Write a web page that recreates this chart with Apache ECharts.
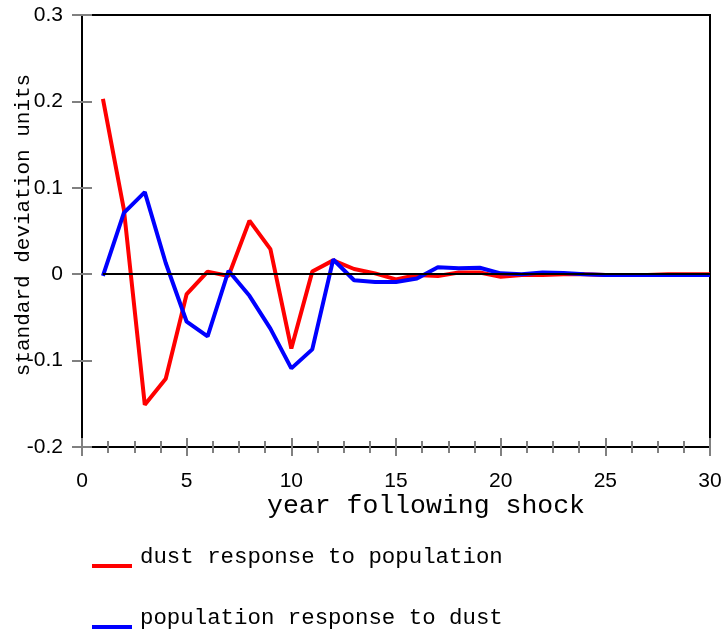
<!DOCTYPE html>
<html>
<head>
<meta charset="utf-8">
<script src="https://cdn.jsdelivr.net/npm/echarts@6/dist/echarts.min.js"></script>
<style>
  html, body { margin: 0; padding: 0; background: #fff; }
  #main { width: 723px; height: 634px; }
</style>
</head>
<body>
<div id="main"></div>
<script>
var years = [1,2,3,4,5,6,7,8,9,10,11,12,13,14,15,16,17,18,19,20,21,22,23,24,25,26,27,28,29,30];
var dustResp = [0.203,0.075,-0.151,-0.121,-0.023,0.003,-0.002,0.062,0.029,-0.086,
  0.003,0.016,0.006,0.001,-0.006,-0.001,-0.002,0.002,0.002,-0.003,
  -0.001,-0.001,0.000,0.000,-0.001,-0.001,-0.001,0.000,0.000,0.000];
var popResp = [-0.002,0.071,0.095,0.013,-0.055,-0.072,0.004,-0.025,-0.063,-0.109,
  -0.087,0.017,-0.007,-0.009,-0.009,-0.005,0.008,0.007,0.0075,0.001,
  0.000,0.002,0.0015,0.000,-0.001,-0.001,-0.001,-0.001,-0.001,-0.001];
var seriesNames = ['dust response to population', 'population response to dust'];
var seriesColors = ['#ff0000', '#0000ff'];

function pairs(vals){
  return years.map(function (y, i){ return [y, vals[i]]; });
}

var mono = '"Liberation Mono", "DejaVu Sans Mono", monospace';
var sans = '"Liberation Sans", Arial, sans-serif';

var myChart = echarts.init(document.getElementById('main'));

// each axis twice: ticks outside + ticks inside, so the ticks cross the line
function xAx(inside){
  return {
    type: 'value', position: 'bottom', min: 0, max: 30, interval: 5,
    name: inside ? '' : 'year following shock',
    nameLocation: 'middle', nameGap: 45, nameMoveOverlap: false,
    nameTextStyle: { fontFamily: mono, fontSize: 26.5, color: '#000', padding: [0, 0, 0, 60] },
    axisLine: { show: true, onZero: false, lineStyle: { color: '#000', width: 2 } },
    axisTick: { show: true, inside: inside, length: 9, lineStyle: { color: '#808080', width: 2 } },
    minorTick: { show: true, splitNumber: 4, length: 6, lineStyle: { color: '#808080', width: 2 } },
    axisLabel: { show: !inside, margin: 24, fontFamily: sans, fontSize: 21, color: '#000' },
    splitLine: { show: false }
  };
}
function yAx(inside){
  return {
    type: 'value', position: 'left', min: -0.2, max: 0.3, interval: 0.1,
    name: inside ? '' : 'standard deviation units',
    nameLocation: 'middle', nameGap: 48, nameMoveOverlap: false,
    nameTextStyle: { fontFamily: mono, fontSize: 21, color: '#000', padding: [0, 0, 0, 12] },
    axisLine: { show: true, onZero: false, lineStyle: { color: '#000', width: 2 } },
    axisTick: { show: true, inside: inside, length: 10, lineStyle: { color: '#808080', width: 2 } },
    axisLabel: {
      show: !inside, margin: 19, fontFamily: sans, fontSize: 21, color: '#000',
      formatter: function (v){ return String(+v.toFixed(1)); }
    },
    splitLine: { show: false }
  };
}

var option = {
  animation: false,
  backgroundColor: '#fff',
  grid: {
    left: 82, right: 13, top: 15, bottom: 187, outerBoundsMode: 'none',
    show: true, borderColor: '#000', borderWidth: 2
  },
  xAxis: [xAx(false), xAx(true)],
  yAxis: [yAx(false), yAx(true)],
  legend: {
    data: seriesNames,
    orient: 'vertical', left: 92, top: 546, padding: 0,
    itemWidth: 43, itemHeight: 22, itemGap: 39,
    // bar sits low in the icon box, like the reference
    icon: 'path://M0,0 L43,0 L43,0 Z M0,18 L40,18 L40,22 L0,22 Z',
    itemStyle: { borderWidth: 0 },
    textStyle: { fontFamily: mono, fontSize: 22.4, color: '#000' }
  },
  series: [
    {
      name: 'zero', type: 'line', data: [], silent: true, z: 1,
      markLine: {
        silent: true, symbol: 'none', label: { show: false },
        lineStyle: { color: '#000', width: 2, type: 'solid' },
        data: [[{ coord: [1, 0] }, { coord: [30, 0] }]]
      }
    },
    {
      name: seriesNames[0], type: 'line', data: pairs(dustResp),
      showSymbol: false, symbol: 'none', z: 2,
      itemStyle: { color: seriesColors[0] },
      lineStyle: { color: seriesColors[0], width: 4 }
    },
    {
      name: seriesNames[1], type: 'line', data: pairs(popResp),
      showSymbol: false, symbol: 'none', z: 3,
      itemStyle: { color: seriesColors[1] },
      lineStyle: { color: seriesColors[1], width: 4 }
    }
  ]
};
myChart.setOption(option);
</script>
</body>
</html>
